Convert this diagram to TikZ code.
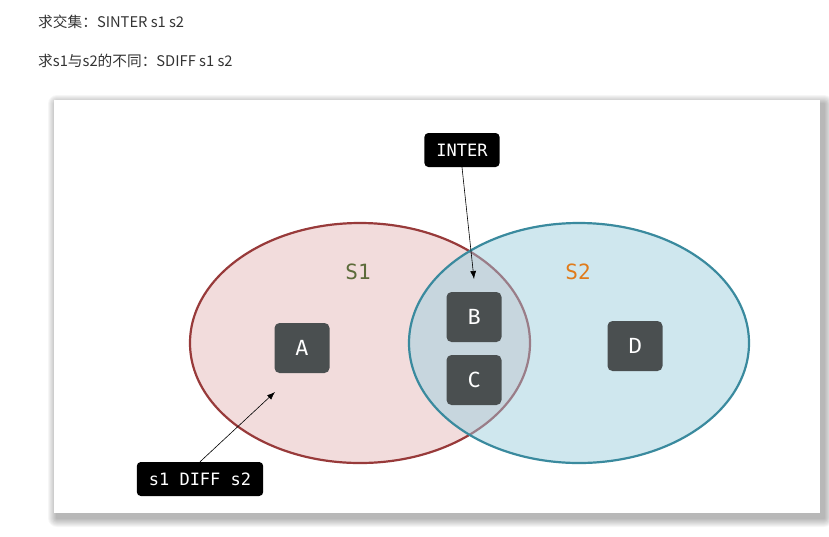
\documentclass[tikz,border=0pt]{standalone}
\usepackage{fontspec}
\newfontfamily\cjk{Noto Sans CJK SC}
\newfontfamily\boxfont{Fira Sans}
\newfontfamily\codefont{DejaVu Sans Mono}
\usetikzlibrary{arrows.meta}

\definecolor{pinkfill}{HTML}{F2DCDC}
\definecolor{redline}{HTML}{983A3A}
\definecolor{bluefill}{HTML}{CFE7EE}
\definecolor{tealline}{HTML}{3A8A9E}
\definecolor{mixfill}{HTML}{C7D6DE}
\definecolor{mixline}{HTML}{9A7D88}
\definecolor{boxgray}{HTML}{4A4F50}
\definecolor{sonecol}{HTML}{5C6B3A}
\definecolor{stwocol}{HTML}{E07B1A}
\definecolor{txtgray}{HTML}{333333}

\begin{document}
\begin{tikzpicture}[x=1pt, y=-1pt,
		k/.style = {rectangle, rounded corners=5pt, fill=boxgray, text=white, minimum width=55, minimum height=50, font=\boxfont\fontsize{22}{24}\selectfont},
		t/.style = {rectangle, rounded corners=4pt, fill=black, text=white, minimum height=34, inner xsep=12, font=\codefont\fontsize{17}{19}\selectfont},
		l/.style = {font=\codefont\fontsize{21}{23}\selectfont},
		h/.style = {anchor=west, inner sep=0, text=txtgray, font=\cjk\fontsize{14.7}{17}\selectfont},
		r/.style = {-{Latex[length=8pt, width=6pt]}, semithick},
		]
		\useasboundingbox (0,0) rectangle (829,536);
		
		%Panel
		\foreach \o in {1,...,9}
			\fill[black, opacity=0.035, rounded corners=\o] (54+3-\o,100+4-\o) rectangle (820+4+\o,513+5+\o);
		\fill[white] (54,100) rectangle (820,513);
		
		%Sets
		\filldraw[fill=pinkfill, draw=redline, line width=2.2pt] (360,343) ellipse [x radius=170, y radius=120];
		\fill[bluefill] (579,343) ellipse [x radius=170, y radius=120];
		\begin{scope}
			\clip (360,343) ellipse [x radius=170, y radius=120];
			\fill[mixfill] (579,343) ellipse [x radius=170, y radius=120];
		\end{scope}
		\begin{scope}
			\clip (579,343) ellipse [x radius=170, y radius=120];
			\draw[mixline, line width=2.2pt] (360,343) ellipse [x radius=170, y radius=120];
		\end{scope}
		\draw[tealline, line width=2.2pt] (579,343) ellipse [x radius=170, y radius=120];
		
		%Nodes
		\node[h]	(l1)	at	(38, 22)	{求交集：SINTER s1 s2};
		\node[h]	(l2)	at	(38, 61)	{求s1与s2的不同：SDIFF s1 s2};
		\node[l, text=sonecol]	(s1)	at	(358, 272)	{S1};
		\node[l, text=stwocol]	(s2)	at	(578, 272)	{S2};
		\node[k]	(a)	at	(302, 348)	{A};
		\node[k]	(b)	at	(474, 317)	{B};
		\node[k]	(c)	at	(474, 380)	{C};
		\node[k]	(d)	at	(635, 346)	{D};
		\node[t]	(inter)	at	(462, 150)	{INTER};
		\node[t]	(diff)	at	(200, 479)	{s1 DIFF s2};
		\coordinate	(pin)	at	(474, 279);
		\coordinate	(pdiff)	at	(275, 392);
		
		%Lines
		\draw[r]	(inter.south)	--	(pin);
		\draw[r]	(diff.north)	--	(pdiff);
	\end{tikzpicture}
\end{document}
